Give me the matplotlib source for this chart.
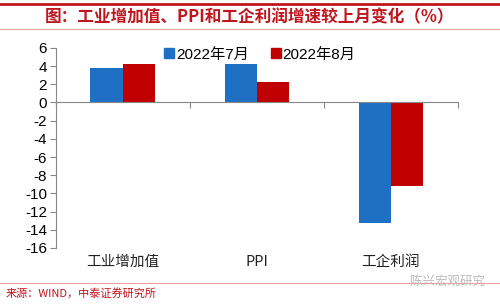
import matplotlib.pyplot as plt
import numpy as np
from matplotlib.lines import Line2D

plt.rcParams['font.family'] = ['Liberation Sans', 'Noto Sans CJK SC', 'DejaVu Sans']
plt.rcParams['axes.unicode_minus'] = False

# data
categories = ['工业增加值', 'PPI', '工企利润']
series_names = ['2022年7月', '2022年8月']
jul = [3.8, 4.2, -13.3]
aug = [4.2, 2.3, -9.2]
yticks = list(range(-16, 7, 2))

BLUE = '#1f6fc5'
RED = '#c00000'
TITLE_RED = '#c0161e'
CJK = ['Noto Sans CJK SC', 'DejaVu Sans']

fig = plt.figure(figsize=(5, 3.05), dpi=100)
ax = fig.add_axes([0.111, 0.187, 0.805, 0.656])

x = np.arange(len(categories))
w = 0.24
ax.bar(x - w / 2, jul, w, color=BLUE, label=series_names[0])
ax.bar(x + w / 2, aug, w, color=RED, label=series_names[1])

ax.set_xlim(-0.5, 2.5)
ax.set_ylim(-16, 6)
ax.set_yticks(yticks)
ax.tick_params(axis='y', labelsize=11, length=4, color='#888888', pad=2)

for s in ['top', 'right']:
    ax.spines[s].set_visible(False)
ax.spines['left'].set_color('#888888')
ax.spines['bottom'].set_position(('data', 0))
ax.spines['bottom'].set_color('#888888')
ax.set_xticks([-0.5, 0.5, 1.5, 2.5])
ax.set_xticklabels([])
ax.tick_params(axis='x', length=4, color='#888888')

for i, c in enumerate(categories):
    ax.text(i, -0.07, c, transform=ax.get_xaxis_transform(), ha='center', va='center',
            fontsize=10.5, color='#222222', family=CJK)

handles = [Line2D([], [], marker='s', ls='', color=BLUE, markersize=7),
           Line2D([], [], marker='s', ls='', color=RED, markersize=7)]
ax.legend(handles, series_names, loc='upper center', bbox_to_anchor=(0.5, 1.07), ncol=2,
          frameon=False, fontsize=11, handletextpad=-0.3, columnspacing=1.0, handlelength=1.5)

# header / footer decorations
fig.add_artist(Line2D([0.0, 1.0], [0.987, 0.987], color=TITLE_RED, lw=2))
fig.text(0.5, 0.944, '图：工业增加值、PPI和工企利润增速较上月变化（%）', ha='center', va='center',
         fontsize=12, fontweight='bold', color=TITLE_RED, family=CJK)
fig.add_artist(Line2D([0.0, 1.0], [0.905, 0.905], color='#e8a0a0', lw=0.8))
fig.add_artist(Line2D([0.0, 1.0], [0.072, 0.072], color='#e8a0a0', lw=0.8))
fig.text(0.012, 0.038, '来源：WIND，中泰证券研究所', ha='left', va='center', fontsize=8,
         color=TITLE_RED, family=CJK)
fig.text(0.97, 0.078, '陈兴宏观研究', ha='right', va='center', fontsize=9, color='#bbbbbb', family=CJK)

fig.savefig('out.png', dpi=100)
